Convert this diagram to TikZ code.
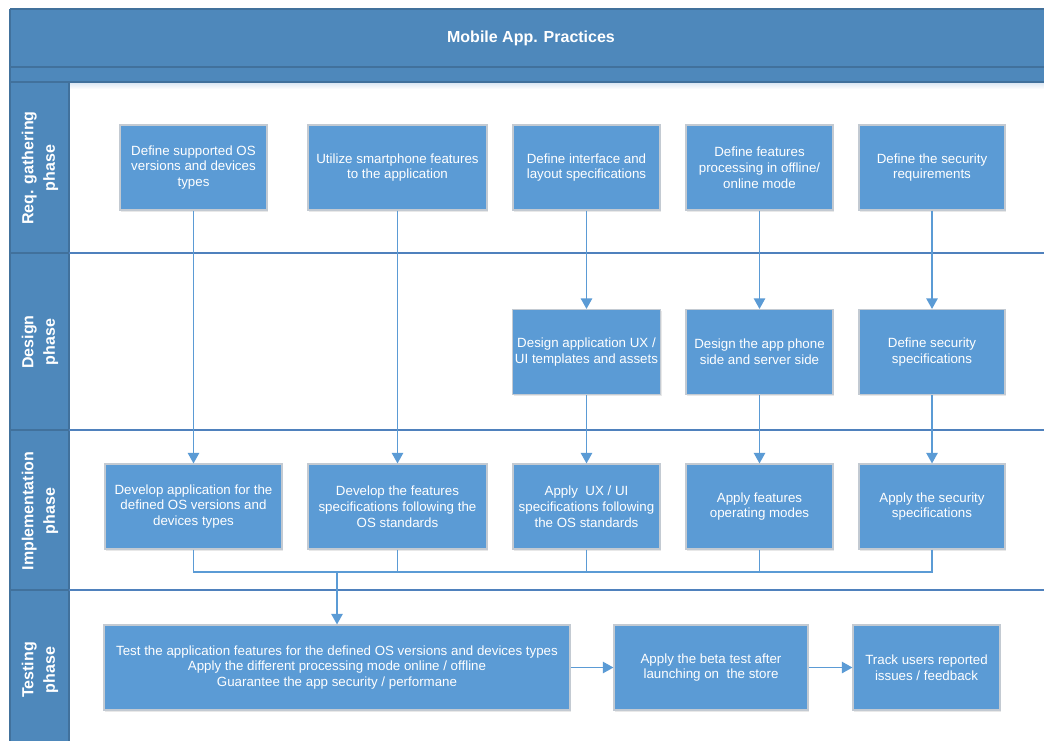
\documentclass[tikz,border=0pt]{standalone}
\usepackage{fontspec}
\setmainfont{Liberation Sans}
\usetikzlibrary{arrows.meta,shadows}
\definecolor{hdr}{HTML}{4E88BB}
\definecolor{hdrline}{HTML}{41719C}
\definecolor{boxfill}{HTML}{5B9BD5}
\definecolor{boxline}{HTML}{C3CAD2}
\definecolor{lane}{HTML}{4F81BD}
\definecolor{glow}{HTML}{D7E4F2}
\begin{document}
\begin{tikzpicture}[x=0.75pt,y=-0.75pt,
  proc/.style={draw=boxline, line width=0.8pt, fill=boxfill, text=white, align=center,
    font=\fontsize{10}{11.8}\selectfont, minimum height=63.75pt, inner sep=2pt,
    drop shadow={opacity=0.18,shadow xshift=1pt,shadow yshift=-1.2pt}},
  conn/.style={draw=boxfill, line width=1.4pt},
  arr/.style={conn, -{Triangle[length=8pt,width=8.5pt]}},
  lanelabel/.style={rotate=90, text=white, font=\fontsize{12}{16}\selectfont\bfseries, align=center},
  lanesep/.style={draw=lane, line width=1.2pt},
  hsep/.style={draw=hdrline, line width=1pt}]
\clip (0,0) rectangle (1044,740);
\fill[white] (0,0) rectangle (1044,740);
% header
\fill[hdr] (10,9) rectangle (1060,82);
\shade[top color=glow, bottom color=white] (69,82) rectangle (1060,89);
\fill[hdr] (10,82) rectangle (69,760);
\draw[hsep] (10,9) -- (1060,9);
\draw[hsep] (10,67) -- (1060,67);
\draw[hsep] (10,82) -- (1060,82);
\draw[hsep] (10,9) -- (10,760);
\draw[hsep] (69,82) -- (69,760);
% lane separators
\foreach \yy in {253,430,590} {
  \draw[hsep] (10,\yy) -- (69,\yy);
  \draw[lanesep] (69,\yy) -- (1060,\yy);
}
\node[text=white, font=\fontsize{12}{14}\selectfont\bfseries] (title) at (531,38.5) {Mobile App. Practices};
\node[lanelabel] (lreq) at (40,168) {Req. gathering\\phase};
\node[lanelabel] (ldes) at (40,342) {Design\\phase};
\node[lanelabel] (limp) at (40,511) {Implementation\\phase};
\node[lanelabel] (ltst) at (40,670) {Testing\\phase};
% requirement row
\node[proc, minimum width=110.25pt] (r1) at (193.5,167.5) {Define supported OS\\versions and devices\\types};
\node[proc, minimum width=134.25pt] (r2) at (397.5,167.5) {Utilize smartphone features\\to the application};
\node[proc, minimum width=110.25pt] (r3) at (586.5,167.5) {Define interface and\\layout specifications};
\node[proc, minimum width=110.25pt] (r4) at (759.5,167.5) {Define features\\processing in offline/\\online mode};
\node[proc, minimum width=109.5pt] (r5) at (932,167.5) {Define the security\\requirements};
% design row
\node[proc, minimum width=110.25pt] (d3) at (586.5,352) {Design application UX /\\UI templates and assets};
\node[proc, minimum width=110.25pt] (d4) at (759.5,352) {Design the app phone\\side and server side};
\node[proc, minimum width=109.5pt] (d5) at (932,352) {Define security\\specifications};
% implementation row
\node[proc, minimum width=132.75pt] (i1) at (193.5,506.5) {Develop application for the\\defined OS versions and\\devices types};
\node[proc, minimum width=134.25pt] (i2) at (397.5,506.5) {Develop the features\\specifications following the\\OS standards};
\node[proc, minimum width=110.25pt] (i3) at (586.5,506.5) {Apply~~UX / UI\\specifications following\\the OS standards};
\node[proc, minimum width=110.25pt] (i4) at (759.5,506.5) {Apply features\\operating modes};
\node[proc, minimum width=109.5pt] (i5) at (932,506.5) {Apply the security\\specifications};
% testing row
\node[proc, minimum width=349.5pt] (t1) at (337,667.5) {Test the application features for the defined OS versions and devices types\\Apply the different processing mode online / offline\\Guarantee the app security / performane};
\node[proc, minimum width=145.5pt] (t2) at (711,667.5) {Apply the beta test after\\launching on~ the store};
\node[proc, minimum width=110.25pt] (t3) at (926.5,667.5) {Track users reported\\issues / feedback};
% connectors
\draw[arr] (r1.south) -- (i1.north);
\draw[arr] (r2.south) -- (i2.north);
\draw[arr] (r3.south) -- (d3.north);
\draw[arr] (r4.south) -- (d4.north);
\draw[arr] (r5.south) -- (d5.north);
\draw[arr] (d3.south) -- (i3.north);
\draw[arr] (d4.south) -- (i4.north);
\draw[arr] (d5.south) -- (i5.north);
\coordinate (m) at (337,572);
\draw[conn] (i1.south) |- (m);
\draw[conn] (i2.south) |- (m);
\draw[conn] (i3.south) |- (m);
\draw[conn] (i4.south) |- (m);
\draw[conn] (i5.south) |- (m);
\draw[arr] (m) -- (t1.north);
\draw[arr] (t1.east) -- (t2.west);
\draw[arr] (t2.east) -- (t3.west);
\end{tikzpicture}
\end{document}
